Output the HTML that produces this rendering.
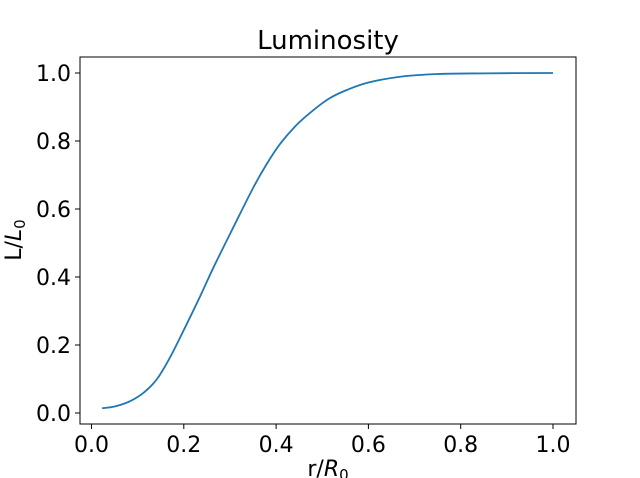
<!DOCTYPE html>
<html><head><meta charset="utf-8"><style>
body{margin:0;background:#fff}
svg{display:block;font-family:"DejaVu Sans","Liberation Sans",sans-serif}
</style></head><body>
<svg id="chart" width="640" height="478">
<text x="328" y="49" font-size="26" text-anchor="middle">Luminosity</text>
<g id="xticks"></g>
<g id="yticks"></g>
<path id="line" fill="none" stroke="#1f77b4" stroke-width="1.8"/>
<rect x="80" y="57" width="496" height="367" fill="none" stroke="#000" stroke-width="1"/>
<text x="328" y="476" font-size="22" text-anchor="middle">r/<tspan font-style="italic">R</tspan><tspan font-size="15" dy="4">0</tspan></text>
<text transform="translate(21,240) rotate(-90)" font-size="22" text-anchor="middle">L/<tspan font-style="italic">L</tspan><tspan font-size="15" dy="4">0</tspan></text>
</svg>
<script>
const xs=[0.023,0.05,0.084,0.115,0.142,0.17,0.2,0.235,0.265,0.308,0.351,0.38,0.409,0.445,0.481,0.515,0.553,0.6,0.669,0.75,0.85,1.0];
const ys=[0.014,0.019,0.035,0.062,0.1,0.163,0.244,0.342,0.43,0.548,0.664,0.733,0.792,0.848,0.891,0.925,0.95,0.972,0.989,0.997,0.999,1.0];
const xTicks=[0,0.2,0.4,0.6,0.8,1.0];
const yTicks=[0,0.2,0.4,0.6,0.8,1.0];
const X=v=>91.5+v*461.5, Y=v=>413-v*340;
const NS="http://www.w3.org/2000/svg";
const xg=document.getElementById('xticks'), yg=document.getElementById('yticks');
xTicks.forEach(t=>{
  const l=document.createElementNS(NS,'line');
  l.setAttribute('x1',X(t));l.setAttribute('x2',X(t));l.setAttribute('y1',424);l.setAttribute('y2',429);l.setAttribute('stroke','#000');
  
  
  xg.appendChild(l);
  const tx=document.createElementNS(NS,'text');
  tx.setAttribute('x',X(t));tx.setAttribute('y',452);tx.setAttribute('font-size','22');tx.setAttribute('text-anchor','middle');
  tx.textContent=t.toFixed(1);
  
  
  xg.appendChild(tx);
});
yTicks.forEach(t=>{
  const l=document.createElementNS(NS,'line');
  l.setAttribute('x1',75);l.setAttribute('x2',80);l.setAttribute('y1',Y(t));l.setAttribute('y2',Y(t));l.setAttribute('stroke','#000');
  
  
  yg.appendChild(l);
  const tx=document.createElementNS(NS,'text');
  tx.setAttribute('x',71);tx.setAttribute('y',Y(t)+8);tx.setAttribute('font-size','22');tx.setAttribute('text-anchor','end');
  tx.textContent=t.toFixed(1);
  
  
  yg.appendChild(tx);
});
let d='';
for(let i=0;i<xs.length;i++){
  if(i===0){d='M'+X(xs[0])+','+Y(ys[0]);continue;}
  const p0=[X(xs[Math.max(i-2,0)]),Y(ys[Math.max(i-2,0)])],p1=[X(xs[i-1]),Y(ys[i-1])],p2=[X(xs[i]),Y(ys[i])],p3=[X(xs[Math.min(i+1,xs.length-1)]),Y(ys[Math.min(i+1,xs.length-1)])];
  const c1=[p1[0]+(p2[0]-p0[0])/6,p1[1]+(p2[1]-p0[1])/6],c2=[p2[0]-(p3[0]-p1[0])/6,p2[1]-(p3[1]-p1[1])/6];
  d+=' C'+c1+' '+c2+' '+p2;
}
document.getElementById('line').setAttribute('d',d);
</script>
</body></html>
